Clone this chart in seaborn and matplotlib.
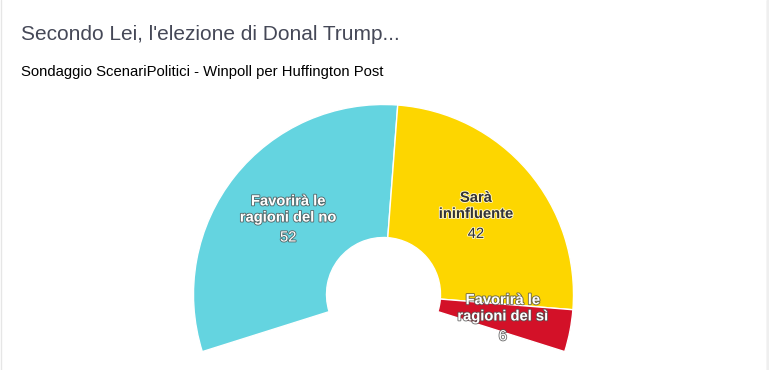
import numpy as np
import matplotlib.pyplot as plt
import matplotlib.patheffects as pe
import seaborn as sns

# Poll data (percent)
categories = ["Favorirà le\nragioni del no", "Sarà\nininfluente", "Favorirà le\nragioni del sì"]
values = [52, 42, 6]

title = "Secondo Lei, l'elezione di Donal Trump..."
subtitle = "Sondaggio ScenariPolitici - Winpoll per Huffington Post"

# Styling
colors = ["#64d4e0", "#fdd600", "#d31128"]
label_colors = ["white", "#333333", "white"]
outline_colors = ["#505050", "white", "#505050"]

sns.set_theme(style="white")
plt.rcParams["font.family"] = ["Liberation Sans", "DejaVu Sans"]

W, H = 769, 370
fig = plt.figure(figsize=(W / 100, H / 100), dpi=100)
fig.patch.set_facecolor("white")

# donut centre and radius in pixels (from top-left)
cx, cy, r = 383.5, 294.5, 190
ax = fig.add_axes([(cx - r) / W, (H - cy - r) / H, 2 * r / W, 2 * r / H])

# the arc covers 215 degrees; an invisible wedge fills the rest of the circle
span = 215
gap = sum(values) * (360 - span) / span
wedges, _ = ax.pie(
    values + [gap],
    colors=colors + ["none"],
    startangle=197.5,
    counterclock=False,
    radius=1,
    wedgeprops=dict(width=0.7, edgecolor="white", linewidth=1),
)
wedges[-1].set_visible(False)
wedges = wedges[:-1]
ax.set_xlim(-1, 1)
ax.set_ylim(-1, 1)
ax.set_aspect("equal")
ax.axis("off")

# data labels inside each wedge
for w, name, val, tc, oc in zip(wedges, categories, values, label_colors, outline_colors):
    mid = np.deg2rad((w.theta1 + w.theta2) / 2)
    x, y = 0.64 * np.cos(mid), 0.64 * np.sin(mid)
    fx = [pe.withStroke(linewidth=1.3, foreground=oc, alpha=0.8)]
    ax.annotate(name, (x, y), xytext=(0, 9.5), textcoords="offset pixels",
                ha="center", va="center", fontsize=10.6, fontweight="bold",
                color=tc, linespacing=1.2, path_effects=fx)
    ax.annotate(str(val), (x, y), xytext=(0, -18.5), textcoords="offset pixels",
                ha="center", va="center", fontsize=10.6,
                color=tc, path_effects=fx)

fig.text(21 / W, 1 - 40 / H, title, fontsize=15, color="#454857", va="baseline")
fig.text(21 / W, 1 - 76 / H, subtitle, fontsize=10.7, color="black", va="baseline")

# panel borders
fig.add_artist(plt.Line2D([0.5 / W] * 2, [0, 1], color="#e6e6e6", lw=1))
fig.add_artist(plt.Line2D([766.5 / W] * 2, [0, 1], color="#d4d4d4", lw=1))
fig.add_artist(plt.Line2D([768 / W] * 2, [0, 1], color="#efefef", lw=1.5))

fig.savefig("out.png", dpi=100)
